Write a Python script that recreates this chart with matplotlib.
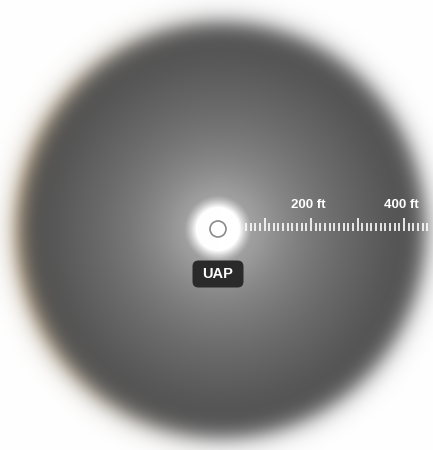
import numpy as np
import matplotlib
matplotlib.use("Agg")
import matplotlib.pyplot as plt
from matplotlib.patches import Circle, FancyBboxPatch

# ---- data ----
scale_labels = ["200 ft", "400 ft"]
scale_label_values = [200, 400]          # ft
ruler_start_ft = 55
ruler_end_ft = 460
minor_step_ft = 10
major_step_ft = 100
object_label = "UAP"

# ---- layout (pixel coords) ----
W, H = 433, 450
cx, cy = 222, 230          # disc centre
R = 204                    # disc radius
ox, oy = 218, 229          # object position
px_per_ft = 0.465

fig = plt.figure(figsize=(W / 100, H / 100), dpi=100)
ax = fig.add_axes([0, 0, 1, 1])
ax.set_xlim(0, W)
ax.set_ylim(H, 0)
ax.axis("off")

# background radial gradient
yy, xx = np.mgrid[0:H, 0:W] + 0.5
r = np.hypot(xx - cx, (yy - cy) * 0.98)
prof_r = [0, 40, 80, 120, 160, 185, 200]
prof_v = [148, 140, 124, 106, 90, 80, 78]
val = np.interp(r, prof_r, prof_v)
edge = 1 / (1 + np.exp(-(r - R) / 6.5))
val = val * (1 - edge) + 255 * edge
# glow around object
rg = np.hypot(xx - ox, yy - oy)
glow = np.clip(1 - (rg - 19) / 15, 0, 1) ** 1.3
glow2 = np.exp(-(rg / 50) ** 2) * 0.25
val = val + (255 - val) * np.clip(glow + glow2, 0, 1)
img = np.stack([val, val, val], axis=-1) / 255
# slight warm tint on the left fringe
side = np.clip((cx - xx) / R, 0, 1) ** 1.5
warm = np.clip(edge * (1 - edge) * 4, 0, 1) * side
img[..., 1] -= warm * 0.04
img[..., 2] -= warm * 0.10
img = np.clip(img, 0, 1)
ax.imshow(img, extent=(0, W, H, 0), interpolation="bilinear", zorder=0)

# object marker
ax.add_patch(Circle((ox, oy), 8, facecolor="none", edgecolor="#8a8a8a", lw=1.2, zorder=3))

# label box
ax.add_patch(FancyBboxPatch((ox - 23, oy + 34), 46, 22,
                            boxstyle="round,pad=2.5,rounding_size=6",
                            facecolor="#2a2a2a", edgecolor="none", zorder=3))
ax.text(ox, oy + 45.5, object_label, color="white", fontsize=10.5, fontweight="bold",
        ha="center", va="center", family="Liberation Sans", zorder=4)

# ruler
base_y = 230.5
ft = np.arange(ruler_start_ft - ruler_start_ft % minor_step_ft + minor_step_ft, ruler_end_ft, minor_step_ft)
for f in ft:
    x = ox + f * px_per_ft
    if x > W:
        break
    h = 12.5 if f % major_step_ft == 0 else 7.5
    ax.plot([x, x], [base_y, base_y - h], color="white", lw=1.4, alpha=0.85,
            solid_capstyle="butt", zorder=3)
for lab, v in zip(scale_labels, scale_label_values):
    ax.text(ox + v * px_per_ft - 3, 205, lab, color="white", fontsize=9.5,
            fontweight="bold", ha="center", va="center", family="Liberation Sans",
            zorder=4)

fig.savefig("out.png", dpi=100)
